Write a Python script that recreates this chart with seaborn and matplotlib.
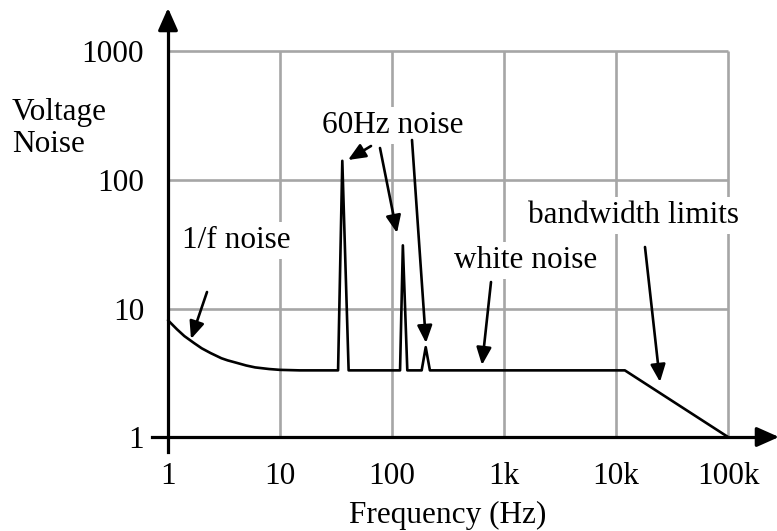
import matplotlib
matplotlib.use("Agg")
import matplotlib.pyplot as plt
from matplotlib.ticker import FixedLocator, NullLocator, FixedFormatter
import seaborn as sns
import pandas as pd

# ---- data ----
freq = [1, 1.2, 1.4, 1.7, 2, 2.4, 3, 3.4, 4, 5, 6, 8, 10, 15, 20,
        33, 36, 41, 118, 125, 137, 184, 200, 218, 12000, 100000]
noise = [8.1, 6.9, 6.1, 5.4, 4.9, 4.5, 4.1, 3.95, 3.8, 3.6, 3.48, 3.38, 3.33, 3.3, 3.3,
         3.3, 141, 3.3, 3.3, 31, 3.3, 3.3, 5.0, 3.3, 3.3, 1.0]
x_ticks = [1, 10, 100, 1000, 10000, 100000]
x_tick_labels = ["1", "10", "100", "1k", "10k", "100k"]
y_ticks = [1, 10, 100, 1000]
y_tick_labels = ["1", "10", "100", "1000"]

df = pd.DataFrame({"freq": freq, "noise": noise})

sns.set_style("white")
plt.rcParams["font.family"] = ["Liberation Serif", "DejaVu Serif"]
FS = 22.5

W, H = 777, 531
fig = plt.figure(figsize=(W / 100, H / 100), dpi=100)

# pixel <-> data mapping (log decades)
X0, DX = 168, 112.0
Y0, DY = 437, 128.5
def fx(px):
    return 10 ** ((px - X0) / DX)
def fy(py):
    return 10 ** ((Y0 - py) / DY)

L, R, T, B = 130, 777, 0, 470
ax = fig.add_axes([L / W, (H - B) / H, (R - L) / W, (B - T) / H])
ax.set_xscale("log")
ax.set_yscale("log")
ax.set_xlim(fx(L), fx(R))
ax.set_ylim(fy(B), fy(T))

# grid box
grid_c = "#a6a6a6"
ax.hlines(y_ticks, 1, 1e5, colors=grid_c, lw=1.9, zorder=1)
ax.vlines(x_ticks, 1, 1000, colors=grid_c, lw=1.9, zorder=1)

sns.lineplot(data=df, x="freq", y="noise", ax=ax, color="black", lw=1.9,
             sort=False, estimator=None, zorder=4)

# axes as arrows
for s in ["top", "right"]:
    ax.spines[s].set_visible(False)
ax.spines["left"].set_position(("data", 1))
ax.spines["bottom"].set_position(("data", 1))
ax.spines["left"].set_bounds(fy(452), fy(20))
ax.spines["bottom"].set_bounds(fx(152), fx(765))
for s in ["left", "bottom"]:
    ax.spines[s].set_linewidth(2.3)
    ax.spines[s].set_color("black")
    ax.spines[s].set_zorder(5)
ax.annotate("", xy=(1, fy(8)), xytext=(1, fy(30)),
            arrowprops=dict(arrowstyle="-|>,head_length=0.9,head_width=0.4",
                            color="black", lw=2.3, mutation_scale=15,
                            shrinkA=0, shrinkB=0),
            annotation_clip=False, zorder=6)
ax.annotate("", xy=(fx(779), 1), xytext=(fx(757), 1),
            arrowprops=dict(arrowstyle="-|>,head_length=0.9,head_width=0.4",
                            color="black", lw=2.3, mutation_scale=15,
                            shrinkA=0, shrinkB=0),
            annotation_clip=False, zorder=6)

ax.xaxis.set_major_locator(FixedLocator(x_ticks))
ax.xaxis.set_major_formatter(FixedFormatter(x_tick_labels))
ax.yaxis.set_major_locator(FixedLocator(y_ticks))
ax.yaxis.set_major_formatter(FixedFormatter(y_tick_labels))
ax.xaxis.set_minor_locator(NullLocator())
ax.yaxis.set_minor_locator(NullLocator())
ax.tick_params(axis="both", which="major", direction="inout", length=22.5,
               width=2.3, color="black", labelsize=FS, labelcolor="black")
ax.tick_params(axis="x", pad=7)
ax.tick_params(axis="y", pad=6)
ax.set_xlabel("")
ax.set_ylabel("")

# labels
def ptext(px, py, s, ha="center", va="baseline", box=False):
    kw = {}
    if box:
        kw["bbox"] = dict(boxstyle="square,pad=0.12", fc="white", ec="none")
    ax.text(fx(px), fy(py), s, ha=ha, va=va, fontsize=FS, color="black",
            zorder=3, **kw)

ptext(12, 120, "Voltage", ha="left")
ptext(12, 152, "Noise", ha="left")
ptext(448, 523, "Frequency (Hz)")
ptext(393, 133, "60Hz noise", box=True)
ptext(236, 248, "1/f noise", box=True)
ptext(526, 268, "white noise", box=True)
ptext(634, 223, "bandwidth limits", box=True)

arrows = [((207, 292), (191, 339)),
          ((371, 146), (348, 160)),
          ((380, 148), (397, 233)),
          ((412, 140), (426, 343)),
          ((491, 282), (482, 365)),
          ((645, 247), (660, 382))]
for (tx, ty), (hx, hy) in arrows:
    ax.annotate("", xy=(fx(hx), fy(hy)), xytext=(fx(tx), fy(ty)),
                arrowprops=dict(arrowstyle="-|>,head_length=0.7,head_width=0.3",
                                color="black", lw=1.9, mutation_scale=15,
                                shrinkA=0, shrinkB=0),
                annotation_clip=False, zorder=6)

fig.savefig("out.png", dpi=100)
